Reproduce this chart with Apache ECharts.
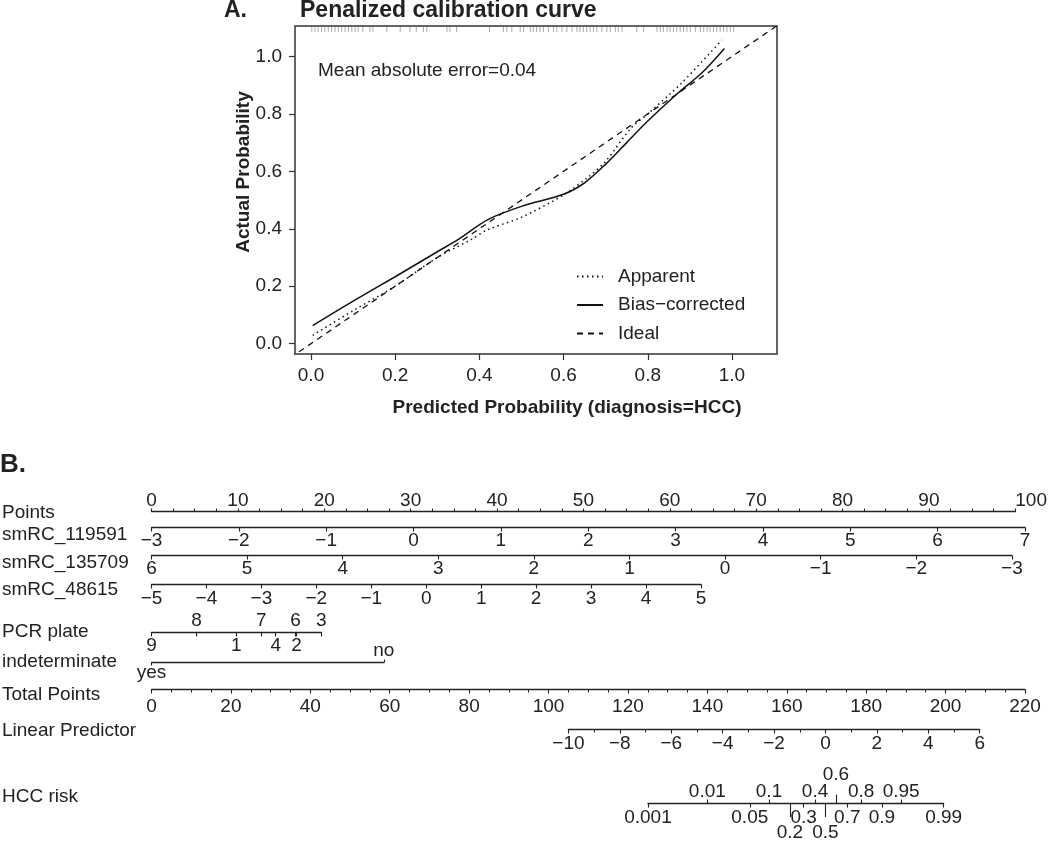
<!DOCTYPE html>
<html>
<head>
<meta charset="utf-8">
<script src="https://cdn.jsdelivr.net/npm/echarts@6/dist/echarts.min.js"></script>
<style>
  html, body { margin: 0; background: #fff; }
  #chart { width: 1050px; height: 842px; }
</style>
</head>
<body>
<div id="chart"></div>
<script>
const FONT = '"Liberation Sans", Arial, Helvetica, sans-serif'
const INK = '#222'

// ---- A. calibration curve ----
const calTicks = [0, 0.2, 0.4, 0.6, 0.8, 1.0]
const calXRange = [-0.038, 1.107]
const calYRange = [-0.036, 1.106]
const apparentX = [0.004, 0.1, 0.2, 0.3, 0.38, 0.42, 0.5, 0.6, 0.66, 0.7, 0.76, 0.8, 0.88, 0.976]
const apparentY = [0.029, 0.115, 0.2, 0.3, 0.362, 0.397, 0.44, 0.518, 0.582, 0.635, 0.75, 0.8, 0.907, 1.057]
const biasX = [0.004, 0.1, 0.2, 0.3, 0.35, 0.42, 0.5, 0.6, 0.65, 0.7, 0.75, 0.8, 0.87, 0.93, 0.982]
const biasY = [0.063, 0.148, 0.233, 0.32, 0.363, 0.432, 0.478, 0.52, 0.56, 0.625, 0.70, 0.775, 0.87, 0.945, 1.028]
const idealXY = [[-0.05, -0.05], [1.15, 1.15]]
// predicted probabilities shown as rug along the top
const rugX = [0.002, 0.0095, 0.017, 0.025, 0.033, 0.041, 0.049, 0.057, 0.065, 0.073, 0.081, 0.089, 0.097,
  0.105, 0.112, 0.123, 0.140, 0.147, 0.180, 0.212, 0.235, 0.250, 0.267, 0.275, 0.323, 0.330, 0.346,
  0.424, 0.457, 0.465, 0.477, 0.497, 0.505, 0.521, 0.528, 0.536, 0.544, 0.552, 0.564, 0.576, 0.584,
  0.596, 0.608, 0.620, 0.632, 0.639, 0.647, 0.655, 0.663, 0.671, 0.679, 0.691, 0.703, 0.711, 0.723,
  0.730, 0.739, 0.774, 0.790, 0.822, 0.830, 0.837, 0.846, 0.853, 0.861, 0.869, 0.877, 0.885, 0.893,
  0.901, 0.913, 0.925, 0.933, 0.941, 0.948, 0.956, 0.964, 0.972, 0.980, 0.988, 0.996, 1.004]

// ---- B. nomogram ----
const pointsRange = [0, 100]
const smrc119591Range = [-3, 7]      // spans 0..100 points
const smrc135709Range = [6, -3]
const smrc135709Points = [0, 98.5]
const smrc48615Range = [-5, 5]
const smrc48615Points = [0, 62.9]
const pcrLevels = ['9', '8', '1', '7', '4', '6', '2', '3']
const pcrPoints = [0, 5.15, 9.72, 12.58, 14.22, 16.5, 16.6, 19.45]
const indetLevels = ['yes', 'no']
const indetPoints = [0, 26.6]
const totalRange = [0, 220]
const lpRange = [-10, 6]
const lpTotalPoints = [105.0, 208.6]
const riskUpper = [0.01, 0.1, 0.4, 0.8, 0.95]
const riskTop = [0.6]
const riskLower = [0.001, 0.05, 0.3, 0.7, 0.9, 0.99]
const riskBottom = [0.2, 0.5]
const riskEnds = [0.001, 0.99]

// points scale on the page
const NOMO_L = 151.5, NOMO_R = 1025
const ptPx = p => NOMO_L + (p - pointsRange[0]) / (pointsRange[1] - pointsRange[0]) * (NOMO_R - NOMO_L)
const tpPx = t => NOMO_L + (t - totalRange[0]) / (totalRange[1] - totalRange[0]) * (NOMO_R - NOMO_L)
const lpPx = v => tpPx(lpTotalPoints[0] + (v - lpRange[0]) / (lpRange[1] - lpRange[0]) * (lpTotalPoints[1] - lpTotalPoints[0]))
const logit = p => Math.log(p / (1 - p))
const minus = v => String(v).replace('-', '\u2212')

const grids = [{ left: 295, top: 26, width: 482, height: 328, show: true, borderColor: '#333', borderWidth: 1.5 }]
const xAxes = [{
  type: 'value', gridIndex: 0, min: calXRange[0], max: calXRange[1],
  axisLine: { show: false, onZero: false }, splitLine: { show: false },
  axisTick: { show: true, length: 6, customValues: calTicks, lineStyle: { color: '#333', width: 1.2 } },
  axisLabel: { customValues: calTicks, margin: 12, fontSize: 19, color: INK, fontFamily: FONT, formatter: v => v.toFixed(1) }
}]
const yAxes = [{
  type: 'value', gridIndex: 0, min: calYRange[0], max: calYRange[1],
  axisLine: { show: false, onZero: false }, splitLine: { show: false },
  axisTick: { show: true, length: 6, customValues: calTicks, lineStyle: { color: '#333', width: 1.2 } },
  axisLabel: { customValues: calTicks, margin: 13, fontSize: 19, color: INK, fontFamily: FONT, formatter: v => v.toFixed(1) }
}]

function addAxis(o) {
  const gi = grids.length
  grids.push({ left: o.left, width: o.right - o.left, top: o.side === 'top' ? o.y : o.y - 1, height: 1 })
  const tick = { show: o.tickLen > 0, length: o.tickLen || 0, inside: !!o.tickInside, lineStyle: { color: INK, width: 1.1 } }
  const label = {
    show: o.noLabel ? false : true, inside: !!o.labelInside, margin: o.margin, fontSize: 19, color: INK, fontFamily: FONT,
    formatter: o.fmt || minus, showMinLabel: true, showMaxLabel: true
  }
  if (o.values) { tick.customValues = o.values; label.customValues = o.values }
  if (o.alignMax) label.alignMaxLabel = o.alignMax
  const ax = {
    type: 'value', gridIndex: gi, position: o.side || 'bottom', min: o.min, max: o.max, inverse: !!o.inverse,
    splitLine: { show: false },
    axisLine: { show: o.line !== false, onZero: false, lineStyle: { color: INK, width: 1.3 } },
    axisTick: tick, axisLabel: label,
    minorTick: { show: !!o.minor, splitNumber: o.minor || 1, length: 3, lineStyle: { color: INK, width: 1 } }
  }
  if (o.interval) ax.interval = o.interval
  xAxes.push(ax)
  yAxes.push({ type: 'value', gridIndex: gi, show: false })
}

// Points
addAxis({ y: 511.5, side: 'top', left: ptPx(0), right: ptPx(100), min: pointsRange[0], max: pointsRange[1],
  interval: 10, minor: 4, tickLen: 3, margin: 1, alignMax: 'left' })
// smRC_119591
addAxis({ y: 527.5, left: ptPx(0), right: ptPx(100), min: smrc119591Range[0], max: smrc119591Range[1],
  interval: 1, tickLen: 4, margin: 4 })
// smRC_135709
addAxis({ y: 555.5, left: ptPx(smrc135709Points[0]), right: ptPx(smrc135709Points[1]),
  min: smrc135709Range[1], max: smrc135709Range[0], inverse: true, interval: 1, tickLen: 4, margin: 4 })
// smRC_48615
addAxis({ y: 584.5, left: ptPx(smrc48615Points[0]), right: ptPx(smrc48615Points[1]),
  min: smrc48615Range[0], max: smrc48615Range[1], interval: 1, tickLen: 4, margin: 4.5 })
// PCR plate (alternating below / above)
const pcrFmt = v => pcrLevels[pcrPoints.indexOf(v)]
addAxis({ y: 632.5, left: ptPx(pcrPoints[0]), right: ptPx(pcrPoints[pcrPoints.length - 1]), min: pcrPoints[0],
  max: pcrPoints[pcrPoints.length - 1], values: pcrPoints.filter((_, i) => i % 2 === 0), tickLen: 4, margin: 4, fmt: pcrFmt })
addAxis({ y: 632.5, left: ptPx(pcrPoints[0]), right: ptPx(pcrPoints[pcrPoints.length - 1]), min: pcrPoints[0],
  max: pcrPoints[pcrPoints.length - 1], values: pcrPoints.filter((_, i) => i % 2 === 1), tickLen: 4, line: false,
  labelInside: true, margin: 2, fmt: pcrFmt })
// indeterminate
const indetFmt = v => indetLevels[indetPoints.indexOf(v)]
addAxis({ y: 662.5, left: ptPx(indetPoints[0]), right: ptPx(indetPoints[1]), min: indetPoints[0], max: indetPoints[1],
  values: [indetPoints[0]], tickLen: 3, margin: 1, fmt: indetFmt })
addAxis({ y: 662.5, left: ptPx(indetPoints[0]), right: ptPx(indetPoints[1]), min: indetPoints[0], max: indetPoints[1],
  values: [indetPoints[1]], tickLen: 3, tickInside: true, line: false, labelInside: true, margin: 2, fmt: indetFmt })
// Total Points
addAxis({ y: 689.5, left: tpPx(totalRange[0]), right: tpPx(totalRange[1]), min: totalRange[0], max: totalRange[1],
  interval: 20, minor: 4, tickLen: 4, margin: 8 })
// Linear Predictor
addAxis({ y: 729.5, left: lpPx(lpRange[0]), right: lpPx(lpRange[1]), min: lpRange[0], max: lpRange[1],
  interval: 2, minor: 2, tickLen: 4, margin: 4.5 })
// HCC risk, on the linear predictor scale
const riskLeft = lpPx(logit(riskEnds[0])), riskRight = lpPx(logit(riskEnds[1]))
const riskAxis = (vals, extra) => addAxis(Object.assign({
  y: 803.5, left: riskLeft, right: riskRight, min: logit(riskEnds[0]), max: logit(riskEnds[1]),
  values: vals.map(logit), fmt: v => String(vals.find(p => Math.abs(logit(p) - v) < 1e-9))
}, extra))
riskAxis(riskLower, { tickLen: 4, margin: 5 })
riskAxis(riskUpper, { tickLen: 4, tickInside: true, labelInside: true, line: false, margin: 2 })
riskAxis(riskTop, { tickLen: 9, tickInside: true, labelInside: true, line: false, margin: 19 })
riskAxis(riskBottom, { tickLen: 14, line: false, margin: 20 })

const txt = (text, x, y, size, bold, extra) => Object.assign({
  type: 'text', x, y, silent: true,
  style: { text, fontSize: size, fontFamily: FONT, fontWeight: bold ? 'bold' : 'normal', fill: INK, align: 'left', verticalAlign: 'middle' }
}, extra || {})

const rowLabels = [
  ['Points', 512.7], ['smRC_119591', 535], ['smRC_135709', 562.7], ['smRC_48615', 590],
  ['PCR plate', 631.7], ['indeterminate', 661.7], ['Total Points', 694.3], ['Linear Predictor', 730.7], ['HCC risk', 796.7]
]

const graphic = [
  txt('A.', 224, 11, 23, true),
  txt('Penalized calibration curve', 300, 11, 23, true),
  txt('Mean absolute error=0.04', 318, 71, 19, false),
  txt('Predicted Probability (diagnosis=HCC)', 567, 408, 19, true, {}),
  txt('Actual Probability', 244, 172, 19, true, { rotation: Math.PI / 2 }),
  txt('B.', 0, 465, 26, true)
].concat(rowLabels.map(r => txt(r[0], 2, r[1], 19, false)))
graphic[3].style.align = 'center'
graphic[4].style.align = 'center'

const chart = echarts.init(document.getElementById('chart'), null, { renderer: 'canvas' })
chart.setOption({
  animation: false,
  backgroundColor: '#fff',
  textStyle: { fontFamily: FONT },
  grid: grids,
  xAxis: xAxes,
  yAxis: yAxes,
  legend: {
    orient: 'vertical', left: 571, top: 262, itemWidth: 26, itemHeight: 20, itemGap: 9.5,
    data: ['Apparent', 'Bias\u2212corrected', 'Ideal'],
    itemStyle: { opacity: 0 },
    textStyle: { fontSize: 19, color: INK, fontFamily: FONT, padding: [0, 0, 0, 10] }
  },
  graphic,
  series: [
    {
      name: 'Apparent', type: 'line', xAxisIndex: 0, yAxisIndex: 0, symbol: 'none', smooth: 0.3,
      data: apparentX.map((x, i) => [x, apparentY[i]]),
      lineStyle: { color: '#111', width: 1.5, type: [1.5, 3.5] }, itemStyle: { color: '#111' }
    },
    {
      name: 'Bias\u2212corrected', type: 'line', xAxisIndex: 0, yAxisIndex: 0, symbol: 'none', smooth: 0.3,
      data: biasX.map((x, i) => [x, biasY[i]]),
      lineStyle: { color: '#111', width: 1.5 }, itemStyle: { color: '#111' }
    },
    {
      name: 'Ideal', type: 'line', xAxisIndex: 0, yAxisIndex: 0, symbol: 'none',
      data: idealXY,
      lineStyle: { color: '#111', width: 1.3, type: [6, 5] }, itemStyle: { color: '#111' }
    },
    {
      type: 'custom', xAxisIndex: 0, yAxisIndex: 0, silent: true,
      data: rugX.map(x => [x, calYRange[1]]),
      encode: { x: 0, y: 1 },
      renderItem: (params, api) => {
        const p = api.coord([api.value(0), api.value(1)])
        return { type: 'line', shape: { x1: p[0], y1: p[1] + 1, x2: p[0], y2: p[1] + 6 }, style: { stroke: '#aaa', lineWidth: 1 } }
      }
    }
  ]
})
</script>
</body>
</html>
